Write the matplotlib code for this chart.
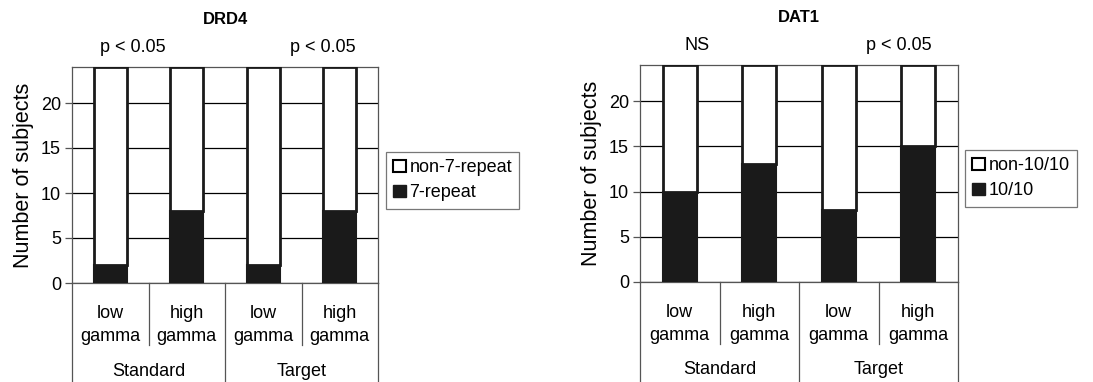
import matplotlib
matplotlib.use("Agg")
import matplotlib.pyplot as plt
from matplotlib.patches import Patch

plt.rcParams['font.family'] = ['Liberation Sans', 'DejaVu Sans']

categories = ["low\ngamma", "high\ngamma", "low\ngamma", "high\ngamma"]
groups = ["Standard", "Target"]
total = 24

drd4_title = "DRD4"
drd4_black = [2, 8, 2, 8]
drd4_labels = ["non-7-repeat", "7-repeat"]
drd4_sig = ["p < 0.05", "p < 0.05"]
drd4_sig_x = [0.3, 2.78]

dat1_title = "DAT1"
dat1_black = [10, 13, 8, 15]
dat1_labels = ["non-10/10", "10/10"]
dat1_sig = ["NS", "p < 0.05"]
dat1_sig_x = [0.22, 2.75]

W, H = 1093, 382
fig = plt.figure(figsize=(W / 100, H / 100), dpi=100)
grey = "#555555"
fs = 13


def panel(rect_px, black, labels, title, sig, sig_x, leg_px):
    l, t, w, h = rect_px
    ax = fig.add_axes([l / W, 1 - (t + h) / H, w / W, h / H])
    x = list(range(len(black)))
    white = [total - b for b in black]
    ax.bar(x, black, width=0.43, color="#1a1a1a", edgecolor="#1a1a1a",
           linewidth=1.5, zorder=3)
    ax.bar(x, white, bottom=black, width=0.43, color="white",
           edgecolor="#1a1a1a", linewidth=2, zorder=3)
    ax.set_xlim(-0.5, 3.5)
    ax.set_ylim(0, total)
    ax.set_yticks([0, 5, 10, 15, 20])
    ax.yaxis.grid(True, color="black", linewidth=0.9, zorder=0)
    ax.set_axisbelow(True)
    ax.set_xticks([])
    ax.tick_params(axis="y", labelsize=fs, length=5, width=0.9,
                   color=grey, pad=3)
    for s in ax.spines.values():
        s.set_color(grey)
        s.set_linewidth(0.9)
    ax.set_ylabel("Number of subjects", fontsize=15.5, labelpad=5)
    ax.set_title(title, fontsize=12, fontweight="bold", pad=31)
    for s_txt, sx in zip(sig, sig_x):
        ax.text(sx, total + 1.2, s_txt, ha="center", va="bottom", fontsize=fs)

    tr = ax.get_xaxis_transform()
    bottom = -(H - t - h) / h
    inner = -62 / h
    for xv in [-0.5, 1.5, 3.5]:
        ax.plot([xv, xv], [0, bottom], transform=tr, color=grey,
                linewidth=0.9, clip_on=False)
    for xv in [0.5, 2.5]:
        ax.plot([xv, xv], [0, inner], transform=tr, color=grey,
                linewidth=0.9, clip_on=False)
    for xi, c in zip(x, categories):
        ax.text(xi, -42 / h, c, transform=tr, ha="center", va="center",
                fontsize=fs, linespacing=1.45)
    for gi, g in enumerate(groups):
        ax.text(gi * 2 + 0.5, -88 / h, g, transform=tr, ha="center",
                va="center", fontsize=fs)

    handles = [Patch(facecolor="white", edgecolor="black", linewidth=1.5),
               Patch(facecolor="#1a1a1a", edgecolor="#1a1a1a")]
    leg = fig.legend(handles, labels, loc="upper left",
                     bbox_to_anchor=(leg_px[0] / W, 1 - leg_px[1] / H),
                     fontsize=fs, frameon=True, fancybox=False,
                     handlelength=0.7, handleheight=0.7, handletextpad=0.2,
                     borderpad=0.4, labelspacing=0.45, borderaxespad=0)
    leg.get_frame().set_edgecolor(grey)
    leg.get_frame().set_linewidth(0.9)
    return ax


panel((72, 67, 306, 216), drd4_black, drd4_labels, drd4_title,
      drd4_sig, drd4_sig_x, (386, 152))
panel((640, 65, 318, 217), dat1_black, dat1_labels, dat1_title,
      dat1_sig, dat1_sig_x, (965, 150))

fig.savefig("out.png", dpi=100)
